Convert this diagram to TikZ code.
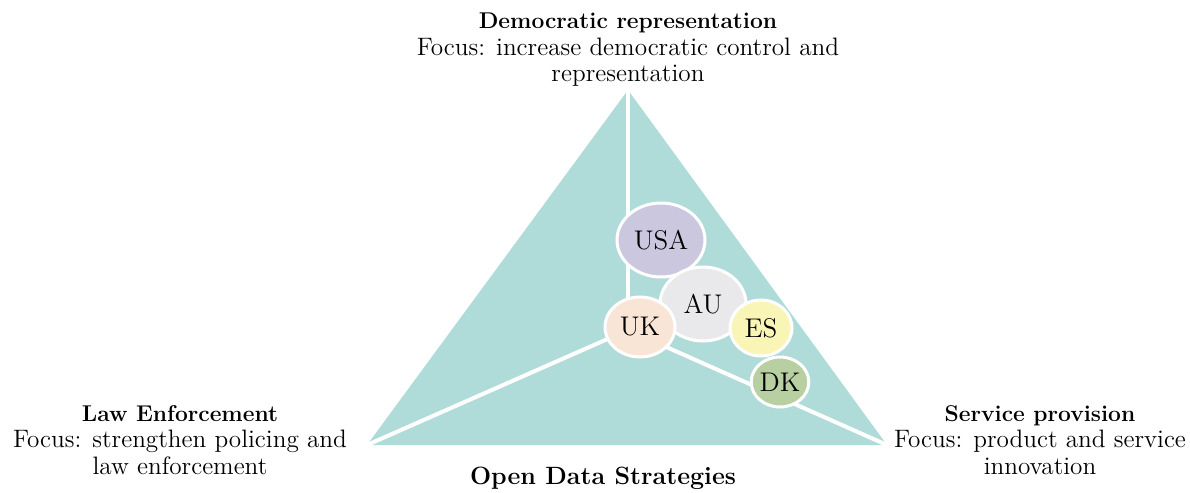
\documentclass[tikz,border=0pt]{standalone}
\usepackage{tikz}
\usetikzlibrary{shapes.geometric, positioning}
\definecolor{odsteal}{RGB}{175,219,217}
\definecolor{usafill}{RGB}{202,199,222}
\definecolor{aufill}{RGB}{233,233,235}
\definecolor{ukfill}{RGB}{248,229,214}
\definecolor{esfill}{RGB}{249,245,182}
\definecolor{dkfill}{RGB}{184,207,162}
\begin{document}
\begin{tikzpicture}[x=0.5pt,y=-0.5pt,
  country/.style={ellipse,draw=white,line width=1.5pt,inner sep=0pt,font=\fontsize{13.5}{15}\selectfont},
  divider/.style={white,line width=2pt},
  focus/.style={align=center,font=\fontsize{12.6}{13.3}\selectfont}]
\useasboundingbox (0,0) rectangle (1190,493);
% triangle
\coordinate (top) at (628,90);
\coordinate (left) at (367,445);
\coordinate (right) at (887,445);
\coordinate (hub) at (628,330);
\fill[odsteal] (top) -- (left) -- (right) -- cycle;
\draw[divider] (top) -- (hub);
\draw[divider] (left) -- (hub) -- (right);
% countries
\node[country,fill=usafill,minimum width=44pt,minimum height=37pt] (usa) at (661,240) {USA};
\node[country,fill=aufill,minimum width=43pt,minimum height=37pt] (au) at (703,304) {AU};
\node[country,fill=esfill,minimum width=31pt,minimum height=28pt] (es) at (761,328) {ES};
\node[country,fill=dkfill,minimum width=27pt,minimum height=25pt] (dk) at (780,382) {DK};
\node[country,fill=ukfill,minimum width=35pt,minimum height=30pt] (uk) at (640,327) {UK};
% labels
\node[focus] (demo) at (628,50) {{\fontsize{11.4}{13.3}\selectfont\bfseries Democratic representation}\\Focus: increase democratic control and\\representation};
\node[focus] (law) at (180,440) {{\fontsize{11.4}{13.3}\selectfont\bfseries Law Enforcement}\\Focus: strengthen policing and\\law enforcement};
\node[focus] (serv) at (1040,440) {{\fontsize{11.4}{13.3}\selectfont\bfseries Service provision}\\Focus: product and service\\innovation};
\node[font=\fontsize{12.5}{14}\selectfont\bfseries] (ods) at (603,478) {Open Data Strategies};
\end{tikzpicture}
\end{document}
